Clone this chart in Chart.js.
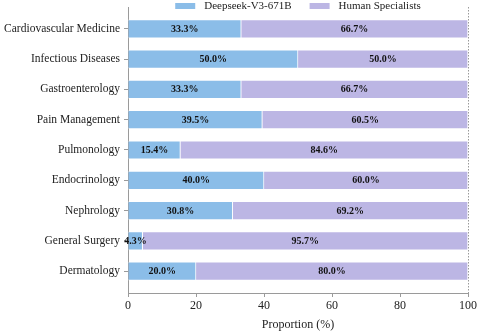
<!DOCTYPE html>
<html>
<head>
<meta charset="utf-8">
<script src="https://cdn.jsdelivr.net/npm/chart.js@4.4.1/dist/chart.umd.min.js"></script>
<style>
  html, body { margin: 0; padding: 0; background: #fff; }
  #wrap { width: 479px; height: 332px; }
</style>
</head>
<body>
<div id="wrap"><canvas id="chart" width="479" height="332"></canvas></div>
<script>
// categories, top to bottom
const specialties = [
    'Cardiovascular Medicine', 'Infectious Diseases', 'Gastroenterology',
    'Pain Management', 'Pulmonology', 'Endocrinology',
    'Nephrology', 'General Surgery', 'Dermatology'
];
const deepseekShare = [33.3, 50.0, 33.3, 39.5, 15.4, 40.0, 30.8, 4.3, 20.0];
const humanShare    = [66.7, 50.0, 66.7, 60.5, 84.6, 60.0, 69.2, 95.7, 80.0];
const xTicks = [0, 20, 40, 60, 80, 100];

const FONT = '"Liberation Serif", "Times New Roman", serif';
const BLUE = '#8bbde8';
const PURPLE = '#bcb6e4';
const AXIS = '#9a9a9a';

const seriesNames = ['Deepseek-V3-671B', 'Human Specialists'];

/* value labels in the middle of each segment */
const segmentLabels = {
    id: 'segmentLabels',
    afterDatasetsDraw(chart) {
        const ctx = chart.ctx;
        ctx.save();
        ctx.font = 'bold 10px ' + FONT;
        ctx.fillStyle = '#111';
        ctx.textAlign = 'center';
        ctx.textBaseline = 'middle';
        chart.data.datasets.forEach((ds, di) => {
            chart.getDatasetMeta(di).data.forEach((bar, i) => {
                const c = bar.getCenterPoint();
                ctx.fillText(ds.data[i].x.toFixed(1) + '%', c.x, c.y + 0.5);
            });
        });
        ctx.restore();
    }
};

/* dotted line at 100 + legend above the plot */
const frame = {
    id: 'frame',
    afterDraw(chart) {
        const { ctx, chartArea, scales } = chart;
        const x100 = Math.round(scales.x.getPixelForValue(100)) + 0.5;
        ctx.save();
        ctx.strokeStyle = AXIS;
        ctx.lineWidth = 1;
        ctx.setLineDash([1.5, 1.5]);
        ctx.beginPath();
        ctx.moveTo(x100, chartArea.top);
        ctx.lineTo(x100, chartArea.bottom);
        ctx.stroke();
        ctx.setLineDash([]);

        // legend
        ctx.font = '11px ' + FONT;
        ctx.textBaseline = 'middle';
        ctx.textAlign = 'left';
        const boxW = 20, boxH = 6, gap = 9, itemGap = 18;
        const widths = seriesNames.map(n => boxW + gap + ctx.measureText(n).width);
        const total = widths[0] + widths[1] + itemGap;
        let x = (chartArea.left + chartArea.right) / 2 - total / 2;
        const y = 6;
        [BLUE, PURPLE].forEach((col, k) => {
            ctx.fillStyle = col;
            ctx.fillRect(x, y - boxH / 2, boxW, boxH);
            ctx.fillStyle = '#222';
            ctx.fillText(seriesNames[k], x + boxW + gap, y);
            x += widths[k] + itemGap;
        });
        ctx.restore();
    }
};

const toPoints = arr => arr.map((v, i) => ({ x: v, y: i }));

new Chart(document.getElementById('chart'), {
    type: 'bar',
    data: {
        datasets: [
            { label: seriesNames[0], data: toPoints(deepseekShare), backgroundColor: BLUE },
            { label: seriesNames[1], data: toPoints(humanShare), backgroundColor: PURPLE }
        ]
    },
    options: {
        indexAxis: 'y',
        responsive: false,
        animation: false,
        layout: { padding: { top: 7, right: 11, left: 0, bottom: 0 } },
        datasets: {
            bar: { barThickness: 18.5, borderWidth: 1, borderColor: '#fff', borderSkipped: 'start' }
        },
        plugins: { legend: { display: false }, tooltip: { enabled: false } },
        scales: {
            x: {
                type: 'linear',
                stacked: true,
                min: 0,
                max: 100,
                afterBuildTicks: s => { s.ticks = xTicks.map(v => ({ value: v })); },
                grid: { drawOnChartArea: false, drawTicks: true, tickLength: 4, color: AXIS },
                border: { display: true, color: AXIS, width: 1 },
                ticks: { color: '#222', font: { family: FONT, size: 12 }, padding: 2, maxRotation: 0 },
                title: {
                    display: true, text: 'Proportion (%)', color: '#222',
                    font: { family: FONT, size: 12 }, padding: { top: 4, bottom: 0 }
                },
                afterFit: s => { s.height = 39; s.paddingRight = 0; s.paddingLeft = 0; }
            },
            y: {
                type: 'linear',
                stacked: true,
                reverse: true,
                offset: false,
                min: -0.72,
                max: 8.72,
                afterBuildTicks: s => { s.ticks = specialties.map((_, i) => ({ value: i })); },
                grid: { drawOnChartArea: false, drawTicks: true, tickLength: 4, color: AXIS, offset: false },
                border: { display: true, color: AXIS, width: 1 },
                ticks: {
                    color: '#222', font: { family: FONT, size: 11.5 }, padding: 4,
                    callback: v => specialties[v]
                },
                afterFit: s => { s.width = 128; s.paddingTop = 0; s.paddingBottom = 0; }
            }
        }
    },
    plugins: [segmentLabels, frame]
});
</script>
</body>
</html>
